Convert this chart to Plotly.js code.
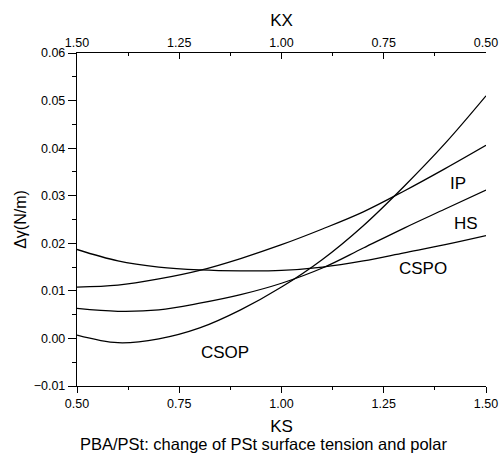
<!DOCTYPE html>
<html>
<head>
<meta charset="utf-8">
<script src="https://cdn.plot.ly/plotly-3.0.1.min.js"></script>
<style>html,body{margin:0;padding:0;background:#fff;}#chart{width:499px;height:456px;}</style>
</head>
<body>
<div id="chart"></div>
<script>
// KS values (bottom axis)
const ks = [0.5, 0.6, 0.7, 0.8, 0.9, 1.0, 1.1, 1.2, 1.3, 1.4, 1.5];
// KX values (top axis, reversed)
const kx = [1.5, 1.4, 1.3, 1.2, 1.1, 1.0, 0.9, 0.8, 0.7, 0.6, 0.5];
// Δγ (N/m) series
const csop = [0.0007, -0.0009, -0.0001, 0.0022, 0.0060, 0.0108, 0.0166, 0.0237, 0.0320, 0.0410, 0.0510];
const ip   = [0.0108, 0.0112, 0.0125, 0.0143, 0.0168, 0.0197, 0.0230, 0.0266, 0.0310, 0.0357, 0.0406];
const hs   = [0.0063, 0.0057, 0.0060, 0.0074, 0.0092, 0.0116, 0.0148, 0.0190, 0.0232, 0.0272, 0.0312];
const cspo = [0.0187, 0.0163, 0.0150, 0.0144, 0.0142, 0.0143, 0.0150, 0.0163, 0.0180, 0.0197, 0.0216];
const seriesNames = ['CSOP', 'IP', 'HS', 'CSPO'];
// label anchor positions (data coords)
const labelX = [0.862, 1.431, 1.451, 1.346];
const labelY = [-0.0029, 0.0326, 0.0242, 0.0146];

const font = 'Liberation Sans, Arial, sans-serif';
const lineStyle = {color: '#000', width: 1.3, shape: 'spline', smoothing: 1};
const data = [csop, ip, hs, cspo].map((ys, i) => ({
  x: ks, y: ys, type: 'scatter', mode: 'lines', name: seriesNames[i],
  line: lineStyle, hoverinfo: 'skip'
}));
// invisible trace so the top KX axis is drawn
data.push({x: kx, y: cspo, xaxis: 'x2', yaxis: 'y', type: 'scatter', mode: 'lines',
  line: {color: 'rgba(0,0,0,0)', width: 0}, hoverinfo: 'skip', showlegend: false});

const annotations = seriesNames.map((n, i) => ({
  x: labelX[i], y: labelY[i], xref: 'x', yref: 'y', text: n, showarrow: false,
  font: {family: font, size: 17, color: '#000'}
}));
const plotLeft = 77, plotW = 499 - 77 - 13;
const plotTop = 53, plotH = 456 - 53 - 70;
annotations.push({
  x: (263 - plotLeft) / plotW, xref: 'paper', y: 1 - (444 - plotTop) / plotH, yref: 'paper',
  yanchor: 'middle', xanchor: 'center',
  text: 'PBA/PSt: change of PSt surface tension and polar',
  showarrow: false, font: {family: font, size: 16.5, color: '#000'}
});

const axisCommon = {
  showgrid: false, zeroline: false, showline: true, linecolor: '#000', linewidth: 1.2,
  tickwidth: 1, tickcolor: '#000', tickfont: {size: 12.5}
};

const layout = {
  width: 499, height: 456,
  margin: {l: 77, r: 13, t: 53, b: 70},
  paper_bgcolor: '#fff', plot_bgcolor: '#fff',
  showlegend: false,
  font: {family: font, color: '#000', size: 12.5},
  xaxis: Object.assign({}, axisCommon, {
    range: [0.5, 1.5], dtick: 0.25, tick0: 0.5, tickformat: '.2f',
    ticks: 'outside', ticklen: 6,
    minor: {dtick: 0.125, tick0: 0.5, ticks: 'outside', ticklen: 3, tickcolor: '#000', showgrid: false},
    title: {text: 'KS', font: {size: 17}, standoff: 9}
  }),
  xaxis2: Object.assign({}, axisCommon, {
    overlaying: 'x', side: 'top', anchor: 'y',
    range: [1.5, 0.5], dtick: 0.25, tick0: 0.5, tickformat: '.2f',
    ticks: 'inside', ticklen: 6,
    minor: {dtick: 0.125, tick0: 0.5, ticks: 'inside', ticklen: 3, tickcolor: '#000', showgrid: false},
    title: {text: 'KX', font: {size: 17}, standoff: 4}
  }),
  yaxis: Object.assign({}, axisCommon, {
    range: [-0.01, 0.06], dtick: 0.01, tick0: 0, tickformat: '.2f',
    ticks: 'outside', ticklen: 8,
    minor: {dtick: 0.005, ticks: 'outside', ticklen: 4, tickcolor: '#000', showgrid: false},
    title: {text: 'Δγ(N/m)', font: {size: 16}, standoff: 3}
  }),
  annotations: annotations
};
Plotly.newPlot('chart', data, layout, {staticPlot: true, displayModeBar: false});
</script>
</body>
</html>
